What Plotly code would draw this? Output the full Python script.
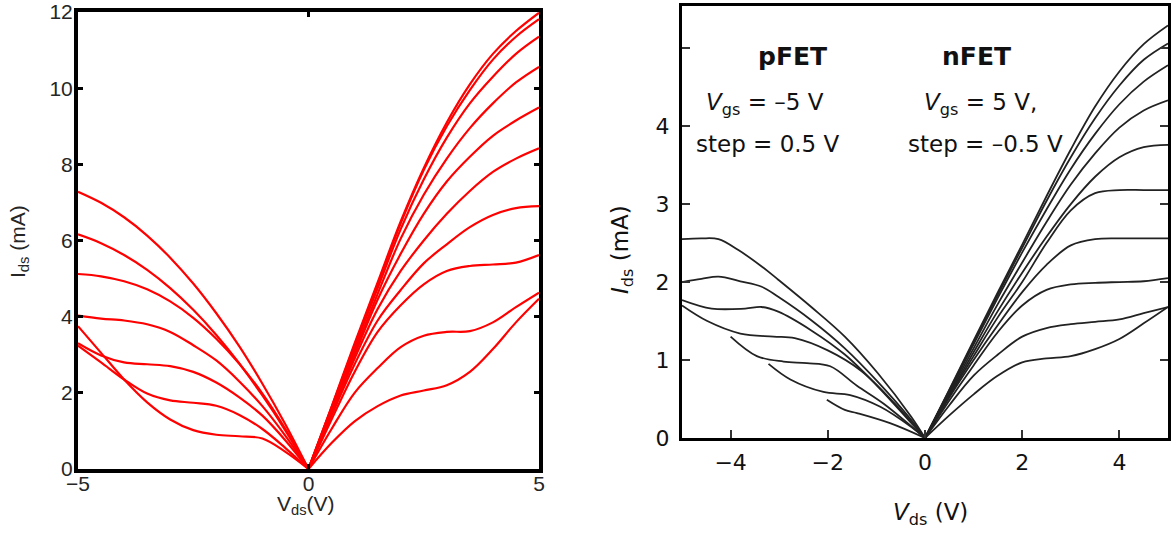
import plotly.graph_objects as go

# ---------------- Left panel: simulated curves (red) ----------------
sim_v_neg = [-5, -4.5, -4, -3.5, -3, -2.5, -2, -1.5, -1, -0.5, 0]
sim_p1 = [7.28, 6.99, 6.61, 6.13, 5.55, 4.87, 4.09, 3.22, 2.24, 1.17, 0]
sim_p2 = [6.16, 5.93, 5.62, 5.23, 4.75, 4.18, 3.52, 2.77, 1.93, 1.01, 0]
sim_p3 = [5.12, 5.06, 4.93, 4.72, 4.40, 3.97, 3.42, 2.76, 1.98, 1.05, 0]
sim_p4 = [4.03, 3.95, 3.90, 3.80, 3.60, 3.25, 2.85, 2.30, 1.65, 0.87, 0]
sim_p5 = [3.30, 2.98, 2.80, 2.75, 2.70, 2.55, 2.27, 1.88, 1.40, 0.75, 0]
sim_p6 = [3.24, 2.80, 2.35, 1.98, 1.80, 1.74, 1.66, 1.42, 1.05, 0.55, 0]
sim_p7 = [3.75, 3.05, 2.35, 1.75, 1.30, 1.02, 0.90, 0.86, 0.80, 0.45, 0]

sim_v_pos = [0, 0.5, 1, 1.5, 2, 2.5, 3, 3.5, 4, 4.5, 5]
sim_n1 = [0, 1.63, 3.30, 4.90, 6.50, 7.90, 9.10, 10.10, 10.90, 11.50, 11.98]
sim_n2 = [0, 1.62, 3.25, 4.85, 6.45, 7.85, 9.00, 9.95, 10.75, 11.35, 11.81]
sim_n3 = [0, 1.60, 3.20, 4.75, 6.30, 7.60, 8.70, 9.60, 10.30, 10.90, 11.35]
sim_n4 = [0, 1.55, 3.10, 4.60, 6.05, 7.20, 8.15, 8.95, 9.60, 10.15, 10.56]
sim_n5 = [0, 1.50, 3.00, 4.45, 5.65, 6.70, 7.55, 8.20, 8.75, 9.15, 9.49]
sim_n6 = [0, 1.45, 2.90, 4.20, 5.20, 6.00, 6.70, 7.30, 7.80, 8.15, 8.42]
sim_n7 = [0, 1.40, 2.75, 3.90, 4.70, 5.40, 5.90, 6.35, 6.67, 6.85, 6.90]
sim_n8 = [0, 1.30, 2.55, 3.60, 4.30, 4.85, 5.20, 5.33, 5.37, 5.42, 5.62]
sim_n9 = [0, 1.05, 2.00, 2.65, 3.20, 3.50, 3.60, 3.62, 3.85, 4.25, 4.63]
sim_n10 = [0, 0.68, 1.25, 1.65, 1.93, 2.06, 2.20, 2.55, 3.15, 3.85, 4.47]

# ---------------- Right panel: measured curves (black) ----------------
exp_pv1 = [-5, -4.6, -4.25, -3.84, -3.36, -3.02, -2.34, -1.65, -0.97, -0.28, 0]
exp_p1 = [2.55, 2.56, 2.55, 2.41, 2.20, 2.03, 1.68, 1.30, 0.83, 0.27, 0]
exp_pv2 = [-5, -4.6, -4.25, -3.8, -3.36, -3.02, -2.34, -1.65, -0.97, -0.28, 0]
exp_p2 = [2.00, 2.04, 2.07, 2.01, 1.94, 1.81, 1.51, 1.15, 0.72, 0.23, 0]
exp_pv3 = [-5, -4.39, -3.7, -3.36, -3.02, -2.34, -1.65, -0.97, -0.28, 0]
exp_p3 = [1.77, 1.66, 1.66, 1.68, 1.62, 1.38, 1.07, 0.66, 0.19, 0]
exp_pv4 = [-5, -4.48, -3.8, -3.12, -2.68, -1.99, -1.31, -0.62, 0]
exp_p4 = [1.70, 1.50, 1.34, 1.30, 1.28, 1.12, 0.86, 0.44, 0]
exp_pv5 = [-4.0, -3.46, -2.91, -2.43, -1.95, -1.4, -0.85, 0]
exp_p5 = [1.30, 1.05, 0.98, 0.96, 0.92, 0.67, 0.44, 0]
exp_pv6 = [-3.22, -2.77, -2.09, -1.54, -0.92, -0.28, 0]
exp_p6 = [0.95, 0.75, 0.59, 0.55, 0.40, 0.14, 0]
exp_pv7 = [-2.02, -1.65, -1.4, -0.72, 0]
exp_p7 = [0.49, 0.36, 0.32, 0.19, 0]

exp_nv = [0, 0.5, 1, 1.5, 2, 2.5, 3, 3.5, 4, 4.5, 5]
exp_n1 = [0, 0.62, 1.25, 1.87, 2.48, 3.10, 3.70, 4.25, 4.70, 5.05, 5.29]
exp_n2 = [0, 0.61, 1.23, 1.84, 2.44, 3.04, 3.60, 4.10, 4.52, 4.85, 5.06]
exp_n3 = [0, 0.60, 1.20, 1.80, 2.38, 2.93, 3.45, 3.90, 4.28, 4.57, 4.78]
exp_n4 = [0, 0.58, 1.15, 1.72, 2.25, 2.77, 3.25, 3.65, 3.98, 4.20, 4.33]
exp_n5 = [0, 0.56, 1.10, 1.63, 2.12, 2.58, 3.00, 3.35, 3.60, 3.73, 3.76]
exp_n6 = [0, 0.54, 1.05, 1.55, 2.00, 2.50, 2.92, 3.14, 3.18, 3.18, 3.18]
exp_n7 = [0, 0.52, 1.00, 1.45, 1.87, 2.22, 2.47, 2.55, 2.56, 2.56, 2.56]
exp_n8 = [0, 0.48, 0.93, 1.36, 1.70, 1.90, 1.97, 1.99, 2.00, 2.01, 2.05]
exp_n9 = [0, 0.42, 0.80, 1.07, 1.30, 1.41, 1.46, 1.49, 1.52, 1.60, 1.68]
exp_n10 = [0, 0.29, 0.56, 0.80, 0.97, 1.02, 1.05, 1.14, 1.27, 1.47, 1.68]

left_yticks = [0, 2, 4, 6, 8, 10, 12]
left_xticks = [-5, 0, 5]
right_yticks = [0, 1, 2, 3, 4, 5]
right_yticklabels = ["0", "1", "2", "3", "4", ""]
right_xticks = [-4, -2, 0, 2, 4]

fig = go.Figure()

RED = "#ff0000"
for ys in [sim_p1, sim_p2, sim_p3, sim_p4, sim_p5, sim_p6, sim_p7]:
    fig.add_trace(go.Scatter(x=sim_v_neg, y=ys, mode="lines",
                             line=dict(color=RED, width=2.2, shape="spline", smoothing=1.0),
                             xaxis="x", yaxis="y", showlegend=False, hoverinfo="skip"))
for ys in [sim_n1, sim_n2, sim_n3, sim_n4, sim_n5, sim_n6, sim_n7, sim_n8, sim_n9, sim_n10]:
    fig.add_trace(go.Scatter(x=sim_v_pos, y=ys, mode="lines",
                             line=dict(color=RED, width=2.2, shape="spline", smoothing=1.0),
                             xaxis="x", yaxis="y", showlegend=False, hoverinfo="skip"))

DARK = "#222222"
for xs, ys in [(exp_pv1, exp_p1), (exp_pv2, exp_p2), (exp_pv3, exp_p3), (exp_pv4, exp_p4),
               (exp_pv5, exp_p5), (exp_pv6, exp_p6), (exp_pv7, exp_p7)]:
    fig.add_trace(go.Scatter(x=xs, y=ys, mode="lines",
                             line=dict(color=DARK, width=1.8, shape="spline", smoothing=1.0),
                             xaxis="x2", yaxis="y2", showlegend=False, hoverinfo="skip"))
for ys in [exp_n1, exp_n2, exp_n3, exp_n4, exp_n5, exp_n6, exp_n7, exp_n8, exp_n9, exp_n10]:
    fig.add_trace(go.Scatter(x=exp_nv, y=ys, mode="lines",
                             line=dict(color=DARK, width=1.8, shape="spline", smoothing=1.0),
                             xaxis="x2", yaxis="y2", showlegend=False, hoverinfo="skip"))

W, H = 1173, 535
def px(x):
    return x / W
def py(y):
    return 1 - y / H

LFONT = dict(family="Liberation Sans, Arial, sans-serif", size=21, color="#262626")
RFAM = "DejaVu Sans, Liberation Sans, Arial, sans-serif"
RFONT = dict(family=RFAM, size=22, color="#111111")

fig.update_layout(
    width=W, height=H,
    margin=dict(l=0, r=0, t=0, b=0, autoexpand=False),
    paper_bgcolor="white", plot_bgcolor="white",
    xaxis=dict(domain=[px(78), px(539)], range=[-5, 5], tickvals=left_xticks,
               showgrid=False, zeroline=False, showline=True, linewidth=4, linecolor="black",
               mirror="ticks", ticks="inside", ticklen=5, tickwidth=2.5, tickcolor="black",
               tickfont=LFONT, anchor="y", automargin=False, ticklabelstandoff=-7),
    yaxis=dict(domain=[py(469), py(12)], range=[0, 12], tickvals=left_yticks,
               showgrid=False, zeroline=False, showline=True, linewidth=4, linecolor="black",
               mirror="ticks", ticks="inside", ticklen=5, tickwidth=2.5, tickcolor="black",
               tickfont=LFONT, anchor="x", automargin=False, ticklabelstandoff=-3),
    xaxis2=dict(domain=[px(682), px(1168)], range=[-5, 5], tickvals=right_xticks,
                showgrid=False, zeroline=False, showline=True, linewidth=3, linecolor="black",
                mirror=True, ticks="inside", ticklen=8, tickwidth=2, tickcolor="#333333",
                tickfont=RFONT, anchor="y2", automargin=False, ticklabelstandoff=3),
    yaxis2=dict(domain=[py(438), py(6)], range=[0, 5.54], tickvals=right_yticks,
                ticktext=right_yticklabels,
                showgrid=False, zeroline=False, showline=True, linewidth=3, linecolor="black",
                mirror="ticks", ticks="inside", ticklen=8, tickwidth=2, tickcolor="#333333",
                tickfont=RFONT, anchor="x2", automargin=False, ticklabelstandoff=5),
)

ann = []
# Left axis titles
ann.append(dict(x=px(19), y=py(242), xref="paper", yref="paper", text="I<sub>ds</sub> (mA)",
                textangle=-90, showarrow=False, font=LFONT, xanchor="center", yanchor="middle"))
ann.append(dict(x=px(306), y=py(505), xref="paper", yref="paper", text="V<sub>ds</sub>(V)",
                showarrow=False, font=LFONT, xanchor="center", yanchor="middle"))
# Right axis titles
TITLEFONT = dict(family=RFAM, size=23, color="#111111")
ann.append(dict(x=px(622), y=py(250), xref="paper", yref="paper",
                text="<i>I</i><sub>ds</sub> (mA)", textangle=-90, showarrow=False,
                font=TITLEFONT, xanchor="center", yanchor="middle"))
ann.append(dict(x=px(930), y=py(514), xref="paper", yref="paper",
                text="<i>V</i><sub>ds</sub> (V)", showarrow=False,
                font=TITLEFONT, xanchor="center", yanchor="middle"))
# In-plot labels
TFONT = dict(family=RFAM, size=23, color="#111111")
BFONT = dict(family=RFAM, size=25, color="#111111")
ann.append(dict(x=px(792), y=py(56), xref="paper", yref="paper", text="<b>pFET</b>",
                showarrow=False, font=BFONT, xanchor="center", yanchor="middle"))
ann.append(dict(x=px(765), y=py(104), xref="paper", yref="paper",
                text="<i>V</i><sub>gs</sub> = \u20135 V", showarrow=False, font=TFONT,
                xanchor="center", yanchor="middle"))
ann.append(dict(x=px(768), y=py(144), xref="paper", yref="paper",
                text="step = 0.5 V", showarrow=False, font=TFONT,
                xanchor="center", yanchor="middle"))
ann.append(dict(x=px(976), y=py(56), xref="paper", yref="paper", text="<b>nFET</b>",
                showarrow=False, font=BFONT, xanchor="center", yanchor="middle"))
ann.append(dict(x=px(980), y=py(104), xref="paper", yref="paper",
                text="<i>V</i><sub>gs</sub> = 5 V,", showarrow=False, font=TFONT,
                xanchor="center", yanchor="middle"))
ann.append(dict(x=px(985), y=py(144), xref="paper", yref="paper",
                text="step = \u20130.5 V", showarrow=False, font=TFONT,
                xanchor="center", yanchor="middle"))
fig.update_layout(annotations=ann)

fig.write_html("out.html",
               config={"displayModeBar": False},
               post_script="document.body.style.margin='0';document.body.style.padding='0';"
                           "document.body.style.overflow='hidden';")
